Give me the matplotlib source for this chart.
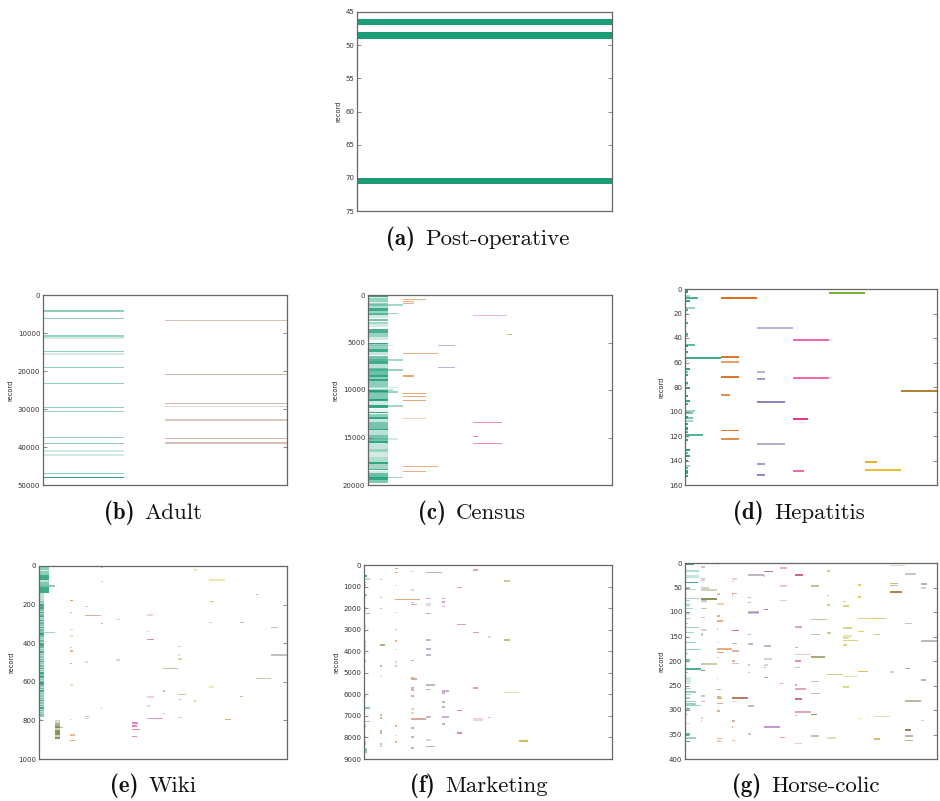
import numpy as np
import matplotlib
matplotlib.use("Agg")
import matplotlib.pyplot as plt
from matplotlib.colors import LinearSegmentedColormap, to_rgba

DARK2 = ["#1b9e77", "#d95f02", "#7570b3", "#e7298a",
         "#66a61e", "#e6ab02", "#a6761d", "#666666"]
dark2_smooth = LinearSegmentedColormap.from_list("dark2_smooth", DARK2)

# ---------------------------------------------------------------------------
# missing-value segments: (column, record, fraction of column, strength)
# runs cover a block of records: (column, first, last, fraction, strength)
# ---------------------------------------------------------------------------
postop_lines = [(0, 46, 1.0, 1.0), (0, 48, 1.0, 1.0), (0, 70, 1.0, 1.0)]
postop_runs = []

adult_lines = [
    (0, 4200, 0.66, 0.5), (0, 6140, 0.66, 0.5), (0, 10790, 0.66, 0.45),
    (0, 11320, 0.66, 0.2), (0, 14910, 0.66, 0.5), (0, 15530, 0.66, 0.2),
    (0, 19040, 0.66, 0.5), (0, 23250, 0.66, 0.5), (0, 29560, 0.66, 0.5),
    (0, 30610, 0.66, 0.45), (0, 37460, 0.66, 0.45), (0, 39120, 0.66, 0.5),
    (0, 40900, 0.66, 0.2), (0, 41250, 0.66, 0.2), (0, 42100, 0.66, 0.2),
    (0, 47020, 0.66, 0.5), (0, 47980, 0.66, 0.9),
    (1, 6750, 1.0, 0.4), (1, 20870, 1.0, 0.45), (1, 28510, 1.0, 0.45),
    (1, 29390, 1.0, 0.25), (1, 32900, 1.0, 0.35), (1, 37720, 1.0, 0.45),
    (1, 38950, 1.0, 0.4),
]
adult_runs = []

census_lines = [
    (0, 1050, 1.0, 0.4), (0, 1930, 0.85, 0.45), (0, 5330, 0.71, 0.2),
    (0, 6840, 1.0, 0.4), (0, 7900, 1.0, 0.45), (0, 9750, 0.85, 0.2),
    (0, 9980, 0.71, 0.3), (0, 10210, 0.85, 0.45), (0, 11680, 1.0, 0.4),
    (0, 15160, 0.85, 0.2), (0, 19190, 1.0, 0.4),
    (1, 456, 0.67, 0.5), (1, 667, 0.33, 0.5), (1, 877, 0.33, 0.5),
    (1, 6140, 1.0, 0.5), (1, 8530, 0.33, 0.55), (1, 10350, 0.67, 0.55),
    (1, 10670, 0.67, 0.5), (1, 11090, 0.67, 0.55), (1, 12980, 0.67, 0.3),
    (1, 18030, 1.0, 0.5), (1, 18560, 0.67, 0.5),
    (2, 5300, 0.5, 0.5), (2, 7610, 0.5, 0.5),
    (3, 2180, 1.0, 0.35), (3, 13400, 0.84, 0.55), (3, 14910, 0.17, 0.6),
    (3, 15610, 0.84, 0.55),
    (4, 4140, 0.14, 0.6),
]
census_runs = [
    (0, 0, 200, 0.57, 0.9), (0, 200, 330, 0.57, 0.2), (0, 330, 760, 0.57, 0.45),
    (0, 760, 880, 0.57, 0.15), (0, 880, 1400, 0.57, 0.35), (0, 1400, 1650, 0.57, 0.85),
    (0, 1650, 1950, 0.57, 0.45), (0, 1950, 2130, 0.57, 0.8), (0, 2130, 2450, 0.57, 0.2),
    (0, 2600, 2700, 0.57, 0.6), (0, 2800, 3100, 0.57, 0.4), (0, 3100, 3350, 0.57, 0.2),
    (0, 3550, 4050, 0.57, 0.8), (0, 4050, 4400, 0.57, 0.45), (0, 4400, 4700, 0.57, 0.2),
    (0, 5000, 5200, 0.57, 0.9), (0, 5200, 5650, 0.57, 0.45), (0, 5650, 6000, 0.57, 0.85),
    (0, 6000, 6350, 0.57, 0.25), (0, 6450, 6950, 0.57, 0.6), (0, 6950, 7250, 0.57, 0.85),
    (0, 7250, 7650, 0.57, 0.3), (0, 7700, 8400, 0.57, 0.65), (0, 8450, 8600, 0.57, 0.9),
    (0, 8650, 8800, 0.57, 0.5), (0, 8850, 9000, 0.57, 0.9), (0, 9000, 9700, 0.57, 0.5),
    (0, 9700, 10000, 0.57, 0.15), (0, 10050, 10150, 0.57, 0.9), (0, 10150, 11000, 0.57, 0.55),
    (0, 11000, 11100, 0.57, 0.9), (0, 11100, 11550, 0.57, 0.2), (0, 11550, 11900, 0.57, 0.85),
    (0, 12000, 12300, 0.57, 0.1), (0, 12300, 12450, 0.57, 0.9), (0, 12500, 12800, 0.57, 0.5),
    (0, 12800, 13050, 0.57, 0.9), (0, 13050, 13400, 0.57, 0.25), (0, 13400, 14100, 0.57, 0.6),
    (0, 14100, 14200, 0.57, 0.9), (0, 14250, 14700, 0.57, 0.3), (0, 14700, 15400, 0.57, 0.6),
    (0, 15400, 15600, 0.57, 0.9), (0, 15600, 16200, 0.57, 0.25), (0, 16200, 16500, 0.57, 0.45),
    (0, 16500, 17000, 0.57, 0.2), (0, 17000, 17600, 0.57, 0.35), (0, 17600, 17750, 0.57, 0.9),
    (0, 17800, 18300, 0.57, 0.4), (0, 18300, 18450, 0.57, 0.8), (0, 18500, 18700, 0.57, 0.2),
    (0, 18700, 19200, 0.57, 0.65), (0, 19200, 19500, 0.57, 0.9), (0, 19500, 19800, 0.57, 0.55),
]

hepatitis_lines = [
    (0, 1, 0.07, 0.9), (0, 2, 0.07, 0.9), (0, 5, 0.14, 0.4), (0, 7, 0.35, 0.8),
    (0, 9, 0.14, 0.9), (0, 15, 0.29, 0.45), (0, 17, 0.07, 0.8), (0, 20, 0.07, 0.2),
    (0, 27, 0.07, 0.8), (0, 36, 0.07, 0.8), (0, 38, 0.07, 0.6), (0, 45, 0.29, 0.7),
    (0, 46, 0.07, 0.9), (0, 51, 0.07, 0.9), (0, 56, 1.0, 0.85), (0, 58, 0.07, 0.2),
    (0, 65, 0.14, 0.9), (0, 67, 0.07, 0.6), (0, 70, 0.07, 0.9), (0, 76, 0.07, 0.9),
    (0, 78, 0.07, 0.3), (0, 80, 0.14, 0.9), (0, 87, 0.07, 0.9), (0, 91, 0.14, 0.9),
    (0, 93, 0.07, 0.8), (0, 99, 0.29, 0.45), (0, 101, 0.21, 0.6), (0, 104, 0.07, 0.9),
    (0, 105, 0.21, 0.6), (0, 107, 0.21, 0.4), (0, 110, 0.07, 0.9), (0, 113, 0.07, 0.9),
    (0, 114, 0.07, 0.9), (0, 116, 0.07, 0.8), (0, 119, 0.5, 0.75), (0, 120, 0.07, 0.3),
    (0, 123, 0.07, 0.9), (0, 131, 0.14, 0.9), (0, 133, 0.07, 0.7), (0, 136, 0.14, 0.9),
    (0, 140, 0.07, 0.9), (0, 144, 0.14, 0.4), (0, 146, 0.07, 0.7), (0, 148, 0.07, 0.9),
    (0, 150, 0.07, 0.9), (0, 152, 0.07, 0.9),
    (1, 7, 1.0, 0.9), (1, 55, 0.5, 0.85), (1, 59, 0.5, 0.6), (1, 71, 0.5, 0.85),
    (1, 86, 0.25, 0.7), (1, 115, 0.5, 0.9), (1, 122, 0.5, 0.7),
    (2, 31, 1.0, 0.5), (2, 67, 0.21, 0.5), (2, 73, 0.21, 0.7), (2, 92, 0.79, 0.85),
    (2, 126, 0.79, 0.55), (2, 142, 0.21, 0.7), (2, 151, 0.21, 0.8),
    (3, 41, 1.0, 0.7), (3, 72, 1.0, 0.7), (3, 106, 0.43, 0.95), (3, 148, 0.3, 0.7),
    (4, 3, 1.0, 0.9),
    (5, 141, 0.33, 0.9), (5, 147, 1.0, 0.8),
    (6, 83, 1.0, 0.9),
]
hepatitis_runs = []

wiki_lines = [
    (0, 104, 1.0, 0.5), (0, 345, 1.0, 0.4), (0, 798, 0.17, 0.3),
    (0, 185, 0.32, 0.3), (0, 198, 0.32, 0.8), (0, 207, 0.32, 0.5), (0, 218, 0.32, 0.8),
    (0, 228, 0.32, 0.4), (0, 240, 0.32, 0.8), (0, 252, 0.32, 0.5), (0, 262, 0.32, 0.8),
    (0, 272, 0.32, 0.3), (0, 283, 0.32, 0.8), (0, 295, 0.32, 0.5), (0, 305, 0.32, 0.3),
    (0, 318, 0.32, 0.8), (0, 330, 0.32, 0.5), (0, 340, 0.32, 0.3), (0, 352, 0.32, 0.9),
    (0, 362, 0.32, 0.5), (0, 375, 0.32, 0.3), (0, 388, 0.32, 0.5), (0, 400, 0.32, 0.3),
    (0, 410, 0.32, 0.8), (0, 420, 0.32, 0.5), (0, 432, 0.32, 0.3), (0, 445, 0.32, 0.8),
    (0, 457, 0.32, 0.4), (0, 470, 0.32, 0.3), (0, 483, 0.32, 0.5), (0, 495, 0.32, 0.8),
    (0, 505, 0.32, 0.3), (0, 518, 0.32, 0.5), (0, 530, 0.32, 0.8), (0, 542, 0.32, 0.3),
    (0, 555, 0.32, 0.8), (0, 565, 0.32, 0.4), (0, 575, 0.32, 0.8), (0, 588, 0.32, 0.3),
    (0, 600, 0.32, 0.5), (0, 612, 0.32, 0.8), (0, 622, 0.32, 0.3), (0, 635, 0.32, 0.5),
    (0, 648, 0.32, 0.8), (0, 660, 0.32, 0.4), (0, 672, 0.32, 0.3), (0, 685, 0.32, 0.5),
    (0, 697, 0.32, 0.8), (0, 710, 0.32, 0.3), (0, 722, 0.32, 0.5), (0, 735, 0.32, 0.8),
    (0, 748, 0.32, 0.5), (0, 758, 0.32, 0.3), (0, 768, 0.32, 0.5), (0, 778, 0.32, 0.3),
    (1, 836, 0.58, 0.5),
    (2, 178, 0.22, 0.6), (2, 240, 0.13, 0.5), (2, 328, 0.22, 0.3), (2, 361, 0.22, 0.25),
    (2, 421, 0.1, 0.4), (2, 439, 0.22, 0.5), (2, 504, 0.13, 0.5), (2, 617, 0.22, 0.25),
    (2, 796, 0.13, 0.25), (2, 876, 0.35, 0.45), (2, 903, 0.35, 0.55),
    (3, 209, 0.16, 0.4), (3, 256, 1.0, 0.5), (3, 497, 0.16, 0.25), (3, 779, 0.2, 0.4),
    (3, 789, 0.2, 0.25),
    (4, 7, 0.13, 0.4), (4, 79, 0.13, 0.4), (4, 297, 0.1, 0.5), (4, 737, 0.07, 0.5),
    (5, 276, 0.22, 0.3), (5, 487, 0.22, 0.3),
    (6, 812, 0.4, 0.6), (6, 829, 0.35, 0.6), (6, 846, 0.5, 0.6), (6, 883, 0.3, 0.6),
    (7, 254, 0.38, 0.25), (7, 340, 0.17, 0.25), (7, 380, 0.4, 0.6), (7, 679, 0.4, 0.25),
    (7, 724, 0.17, 0.25), (7, 789, 1.0, 0.55),
    (8, 530, 1.0, 0.5), (8, 648, 0.1, 0.5), (8, 765, 0.13, 0.3),
    (9, 416, 0.15, 0.4), (9, 461, 0.1, 0.3), (9, 480, 0.2, 0.4), (9, 665, 0.5, 0.5),
    (9, 691, 0.2, 0.4), (9, 784, 0.2, 0.4),
    (10, 21, 0.17, 0.3), (10, 700, 0.15, 0.5),
    (11, 73, 1.0, 0.3), (11, 183, 0.3, 0.6), (11, 292, 0.17, 0.5), (11, 627, 0.3, 0.3),
    (12, 795, 0.4, 0.6),
    (13, 292, 0.25, 0.5), (13, 675, 0.15, 0.5),
    (14, 147, 0.1, 0.5), (14, 582, 1.0, 0.4),
    (15, 318, 0.4, 0.4), (15, 461, 1.0, 0.4),
]
wiki_runs = [
    (0, 0, 20, 0.64, 0.5), (0, 20, 28, 0.64, 0.2), (0, 28, 47, 0.64, 0.5),
    (0, 47, 75, 0.64, 0.85), (0, 75, 82, 0.64, 0.3), (0, 82, 100, 0.64, 0.55),
    (0, 100, 110, 0.64, 0.25), (0, 110, 140, 0.64, 0.85), (0, 140, 175, 0.32, 0.3),
    (0, 175, 780, 0.32, 0.3),
    (1, 798, 815, 0.37, 0.3), (1, 815, 829, 0.37, 0.6), (1, 829, 841, 0.37, 0.85),
    (1, 841, 852, 0.37, 0.35), (1, 852, 876, 0.37, 0.85), (1, 876, 884, 0.37, 0.35),
    (1, 884, 898, 0.37, 0.85),
]

marketing_lines = [
    (0, 31, 0.4, 0.3), (0, 650, 0.4, 0.3), (0, 820, 0.15, 0.5), (0, 920, 0.1, 0.5),
    (0, 1040, 0.1, 0.5), (0, 1380, 0.2, 0.5), (0, 1460, 0.1, 0.5), (0, 1970, 0.1, 0.4),
    (0, 2100, 0.1, 0.5), (0, 2240, 0.4, 0.5), (0, 2830, 0.15, 0.4), (0, 3090, 0.1, 0.4),
    (0, 3540, 0.1, 0.5), (0, 3650, 0.1, 0.5), (0, 3730, 0.1, 0.5), (0, 3790, 0.1, 0.5),
    (0, 3920, 0.1, 0.5), (0, 4100, 0.1, 0.5), (0, 4460, 0.1, 0.5), (0, 6080, 0.1, 0.4),
    (0, 6640, 0.4, 0.55), (0, 7260, 0.4, 0.5), (0, 7460, 0.15, 0.5), (0, 7960, 0.15, 0.4),
    (0, 8190, 0.1, 0.5), (0, 8310, 0.1, 0.5),
    (1, 670, 0.15, 0.5), (1, 1510, 0.15, 0.5), (1, 2020, 0.15, 0.5), (1, 3700, 0.35, 0.6),
    (1, 4680, 0.15, 0.5), (1, 5170, 0.15, 0.25), (1, 6960, 0.15, 0.5), (1, 7100, 0.15, 0.5),
    (1, 7710, 0.15, 0.5), (1, 7800, 0.15, 0.5), (1, 8310, 0.15, 0.5), (1, 8410, 0.15, 0.5),
    (2, 155, 0.2, 0.5), (2, 340, 0.2, 0.5), (2, 960, 0.15, 0.3), (2, 1590, 1.0, 0.55),
    (2, 2210, 0.15, 0.3), (2, 3000, 0.15, 0.5), (2, 3530, 0.15, 0.5), (2, 3920, 0.15, 0.3),
    (2, 4490, 0.15, 0.3), (2, 4680, 0.15, 0.4), (2, 7460, 0.15, 0.5), (2, 7910, 0.15, 0.3),
    (2, 8220, 0.15, 0.5),
    (3, 310, 0.2, 0.3), (3, 1150, 0.2, 0.3), (3, 1590, 0.6, 0.55), (3, 1740, 0.2, 0.5),
    (3, 1830, 0.4, 0.55), (3, 4440, 0.2, 0.5), (3, 5210, 0.2, 0.5), (3, 5280, 0.4, 0.55),
    (3, 5700, 0.2, 0.5), (3, 5810, 0.2, 0.45), (3, 6080, 0.2, 0.5), (3, 6680, 0.2, 0.3),
    (3, 6870, 0.2, 0.3), (3, 7150, 1.0, 0.55), (3, 7570, 0.2, 0.5), (3, 7990, 0.2, 0.5),
    (3, 8500, 0.2, 0.5),
    (4, 340, 1.0, 0.55), (4, 1550, 0.3, 0.5), (4, 2250, 0.3, 0.5), (4, 3470, 0.3, 0.5),
    (4, 3890, 0.3, 0.5), (4, 5560, 0.6, 0.5), (4, 5770, 0.3, 0.5), (4, 7060, 0.3, 0.5),
    (4, 8110, 0.3, 0.3), (4, 8410, 0.6, 0.55),
    (5, 1550, 0.2, 0.5), (5, 1710, 0.2, 0.5), (5, 1930, 0.2, 0.5), (5, 5840, 0.5, 0.5),
    (5, 5940, 0.2, 0.5), (5, 6360, 0.2, 0.5), (5, 6590, 0.2, 0.5), (5, 7060, 0.5, 0.5),
    (5, 7380, 0.2, 0.5),
    (6, 1040, 0.3, 0.5), (6, 2750, 0.6, 0.5), (6, 6760, 0.3, 0.6), (6, 7800, 0.3, 0.6),
    (7, 220, 0.35, 0.5), (7, 3140, 0.4, 0.55), (7, 5700, 0.35, 0.55),
    (8, 3340, 0.2, 0.3), (8, 7070, 0.2, 0.4),
    (9, 3470, 0.4, 0.6),
    (10, 8160, 0.6, 0.7),
]
marketing_runs = [
    (0, 450, 575, 0.2, 0.85), (0, 8500, 8730, 0.2, 0.5),
    (4, 1780, 1880, 0.3, 0.25), (4, 4150, 4230, 0.3, 0.5),
    (7, 7100, 7220, 0.7, 0.25), (9, 700, 790, 0.4, 0.5), (9, 5880, 5940, 1.0, 0.3),
]

horse_lines = [
    (0, 3, 0.6, 0.85), (0, 16, 0.9, 0.35), (0, 39, 0.8, 0.8), (0, 51, 0.3, 0.4),
    (0, 54, 0.7, 0.35), (0, 72, 0.9, 0.4), (0, 76, 0.3, 0.4), (0, 85, 0.3, 0.4),
    (0, 92, 0.5, 0.4), (0, 113, 0.3, 0.4), (0, 123, 0.2, 0.5), (0, 131, 0.9, 0.45),
    (0, 141, 0.6, 0.4), (0, 162, 0.7, 0.45), (0, 176, 1.0, 0.45), (0, 184, 0.2, 0.5),
    (0, 198, 0.3, 0.6), (0, 216, 1.0, 0.8), (0, 223, 0.2, 0.5), (0, 256, 0.4, 0.4),
    (0, 263, 0.7, 0.45), (0, 268, 0.4, 0.4), (0, 275, 0.3, 0.4), (0, 282, 0.7, 0.45),
    (0, 287, 0.7, 0.45), (0, 290, 1.0, 0.45), (0, 296, 0.3, 0.7), (0, 300, 0.3, 0.4),
    (0, 309, 0.2, 0.4), (0, 327, 0.3, 0.25), (0, 349, 0.3, 0.7), (0, 357, 0.7, 0.45),
    (0, 364, 0.3, 0.85),
    (1, 8, 0.3, 0.4), (1, 32, 0.25, 0.35), (1, 35, 0.25, 0.35), (1, 51, 0.5, 0.35),
    (1, 55, 1.0, 0.35), (1, 73, 1.0, 0.85), (1, 77, 0.4, 0.4), (1, 92, 0.4, 0.4),
    (1, 111, 0.25, 0.4), (1, 143, 0.15, 0.4), (1, 147, 0.15, 0.4), (1, 206, 1.0, 0.4),
    (1, 219, 0.25, 0.85), (1, 271, 0.25, 0.4), (1, 282, 0.25, 0.4), (1, 316, 0.15, 0.3),
    (1, 322, 0.1, 0.3),
    (2, 1, 0.1, 0.4), (2, 63, 0.25, 0.4), (2, 108, 0.25, 0.5), (2, 118, 0.4, 0.5),
    (2, 134, 0.1, 0.4), (2, 162, 0.15, 0.3), (2, 175, 1.0, 0.5), (2, 182, 0.5, 0.6),
    (2, 192, 0.15, 0.4), (2, 235, 0.1, 0.4), (2, 258, 0.3, 0.6), (2, 273, 0.3, 0.5),
    (2, 276, 0.35, 0.6), (2, 286, 0.4, 0.5), (2, 302, 0.2, 0.5), (2, 358, 0.35, 0.5),
    (2, 363, 0.3, 0.3),
    (3, 32, 0.3, 0.3), (3, 37, 0.1, 0.4), (3, 62, 0.3, 0.5), (3, 65, 0.05, 0.5),
    (3, 137, 0.4, 0.85), (3, 164, 0.3, 0.5), (3, 179, 0.4, 0.5), (3, 200, 0.15, 0.5),
    (3, 205, 0.4, 0.4), (3, 275, 1.0, 0.85), (3, 282, 0.3, 0.3), (3, 322, 0.15, 0.5),
    (3, 334, 0.05, 0.5), (3, 362, 0.2, 0.4),
    (4, 24, 1.0, 0.5), (4, 70, 0.2, 0.5), (4, 80, 0.2, 0.5), (4, 100, 0.7, 0.5),
    (4, 102, 0.7, 0.4), (4, 145, 0.2, 0.5), (4, 165, 0.3, 0.5), (4, 208, 0.15, 0.4),
    (4, 223, 0.15, 0.4), (4, 291, 0.4, 0.5), (4, 348, 0.2, 0.4),
    (5, 17, 0.6, 0.85), (5, 26, 0.1, 0.5), (5, 94, 0.3, 0.85), (5, 169, 0.45, 0.5),
    (5, 208, 0.25, 0.3), (5, 213, 0.15, 0.5), (5, 233, 0.3, 0.6),
    (6, 10, 0.5, 0.4), (6, 46, 0.5, 0.3), (6, 76, 0.5, 0.3), (6, 92, 0.05, 0.5),
    (6, 245, 0.25, 0.5), (6, 356, 0.35, 0.5),
    (7, 24, 0.5, 0.85), (7, 130, 0.4, 0.5), (7, 172, 0.2, 0.5), (7, 186, 1.0, 0.3),
    (7, 200, 0.35, 0.6), (7, 213, 0.3, 0.4), (7, 249, 0.1, 0.5), (7, 257, 0.7, 0.5),
    (7, 304, 1.0, 0.5), (7, 311, 0.1, 0.5), (7, 368, 0.4, 0.3),
    (8, 46, 0.5, 0.5), (8, 115, 1.0, 0.5), (8, 145, 0.6, 0.5), (8, 241, 0.5, 0.5),
    (8, 266, 0.6, 0.5), (8, 309, 0.35, 0.85), (8, 352, 0.5, 0.5),
    (9, 16, 0.2, 0.5), (9, 66, 0.15, 0.5), (9, 85, 0.2, 0.5), (9, 142, 0.3, 0.5),
    (9, 227, 1.0, 0.5),
    (10, 78, 0.25, 0.5), (10, 132, 0.6, 0.5), (10, 149, 0.6, 0.3), (10, 153, 0.4, 0.4),
    (10, 158, 1.0, 0.5), (10, 167, 0.3, 0.5), (10, 231, 1.0, 0.3), (10, 252, 0.4, 0.5),
    (11, 44, 0.2, 0.6), (11, 69, 0.15, 0.6), (11, 113, 1.0, 0.5), (11, 139, 0.35, 0.6),
    (11, 221, 0.6, 0.7), (11, 317, 0.15, 0.4),
    (12, 113, 0.75, 0.5), (12, 145, 0.4, 0.5), (12, 313, 1.0, 0.3),
    (13, 5, 1.0, 0.3), (13, 41, 0.5, 0.5), (13, 45, 0.5, 0.5), (13, 59, 0.75, 0.85),
    (13, 222, 0.3, 0.3),
    (14, 22, 0.65, 0.4), (14, 123, 0.4, 0.4), (14, 215, 0.3, 0.6), (14, 281, 1.0, 0.5),
    (14, 340, 0.35, 0.85), (14, 352, 0.5, 0.5), (14, 362, 0.45, 0.5),
    (15, 42, 0.35, 0.5), (15, 50, 0.3, 0.3), (15, 159, 1.0, 0.45), (15, 238, 0.3, 0.5),
    (15, 321, 0.2, 0.3),
]
horse_runs = [
    (0, 25, 31, 0.9, 0.25), (0, 99, 106, 0.3, 0.25), (0, 232, 246, 0.35, 0.2),
    (1, 135, 139, 0.4, 0.3), (2, 81, 85, 0.5, 0.3), (5, 193, 197, 0.5, 0.3),
    (5, 333, 336, 1.0, 0.6), (7, 276, 280, 0.4, 0.8), (8, 190, 194, 0.9, 0.7),
    (9, 355, 359, 0.6, 0.3), (10, 85, 90, 0.4, 0.5), (12, 357, 361, 0.4, 0.6),
]

smooth16 = [dark2_smooth(i / 15) for i in range(16)]

PANELS = [
    # key, caption, lines, runs, colours, columns, y-range, ticks, min bar
    ("a", "Post-operative", postop_lines, postop_runs, ["#1b9e77"],
     1, (75, 45), np.arange(45, 76, 5), 0.0),
    ("b", "Adult", adult_lines, adult_runs, ["#1b9e77", "#a0604a"],
     2, (50000, 0), np.arange(0, 50001, 10000), 330),
    ("c", "Census", census_lines, census_runs, DARK2[:7],
     7, (20000, 0), np.arange(0, 20001, 5000), 150),
    ("d", "Hepatitis", hepatitis_lines, hepatitis_runs, DARK2[:7],
     7, (160, 0), np.arange(0, 161, 20), 1.6),
    ("e", "Wiki", wiki_lines, wiki_runs, smooth16,
     16, (1000, 0), np.arange(0, 1001, 200), 8),
    ("f", "Marketing", marketing_lines, marketing_runs, smooth16,
     16, (9000, 0), np.arange(0, 9001, 1000), 70),
    ("g", "Horse-colic", horse_lines, horse_runs, smooth16,
     16, (400, 0), np.arange(0, 401, 50), 3.2),
]

# axes boxes in pixels: left, top, right, bottom
BOXES = {
    "a": (357, 12, 612, 211),
    "b": (43, 295, 287, 485),
    "c": (368, 295, 612, 485),
    "d": (685, 289, 937, 485),
    "e": (39, 566, 287, 759),
    "f": (364, 565, 612, 759),
    "g": (685, 563, 937, 759),
}
# caption centres (x, y) in pixels, centred on the whole subfigure
CAPTION_XY = {"a": (478, 240), "b": (153, 514), "c": (472, 514), "d": (799, 514),
              "e": (153, 787), "f": (479, 787), "g": (806, 787)}
CAPTION_SIZE = 16.5
CAPTION_GAP = 10

W, H = 940, 801
fig = plt.figure(figsize=(W / 100, H / 100), dpi=100)
fig.patch.set_facecolor("white")
renderer = fig.canvas.get_renderer()

for key, caption, lines, runs, colours, ncols, ylim, ticks, minh in PANELS:
    l, t, r, b = BOXES[key]
    ax = fig.add_axes([l / W, 1 - b / H, (r - l) / W, (b - t) / H])

    segs = [(c, rec, rec + 1, frac, s) for c, rec, frac, s in lines] + list(runs)
    cols = np.array([s[0] for s in segs])
    first = np.array([s[1] for s in segs], dtype=float)
    last = np.array([s[2] for s in segs], dtype=float)
    frac = np.array([s[3] for s in segs])
    strength = np.array([s[4] for s in segs])
    height = np.maximum(last - first, minh)
    centre = (first + last) / 2
    rgba = [to_rgba(colours[c], alpha=a) for c, a in zip(cols, strength)]
    ax.barh(centre, frac, height=height, left=cols, color=rgba,
            linewidth=0, align="center")

    ax.set_xlim(0, ncols)
    ax.set_ylim(*ylim)
    ax.set_yticks(ticks)
    ax.set_xticks([])
    ax.tick_params(axis="y", direction="in", left=True, right=True,
                   length=3, width=0.6, color="#777777",
                   labelsize=5, labelcolor="#333333", pad=2)
    for sp in ax.spines.values():
        sp.set_color("#666666")
        sp.set_linewidth(0.9)
    ax.set_ylabel("record", fontsize=4.8, color="#222222", labelpad=3)

    # subfigure caption: bold "(x)" then the dataset name
    cx, cy = CAPTION_XY[key]
    base_y = 1 - (cy + 5) / H
    tag = fig.text(0, base_y, "(%s)" % key, family="cmb10", fontsize=CAPTION_SIZE,
                   va="baseline", ha="left", color="#111111")
    name = fig.text(0, base_y, caption, family="cmr10", fontsize=CAPTION_SIZE,
                    va="baseline", ha="left", color="#111111")
    w_tag = tag.get_window_extent(renderer).width
    w_name = name.get_window_extent(renderer).width
    x0 = cx - (w_tag + CAPTION_GAP + w_name) / 2
    tag.set_x(x0 / W)
    name.set_x((x0 + w_tag + CAPTION_GAP) / W)

fig.savefig("out.png", dpi=100)
